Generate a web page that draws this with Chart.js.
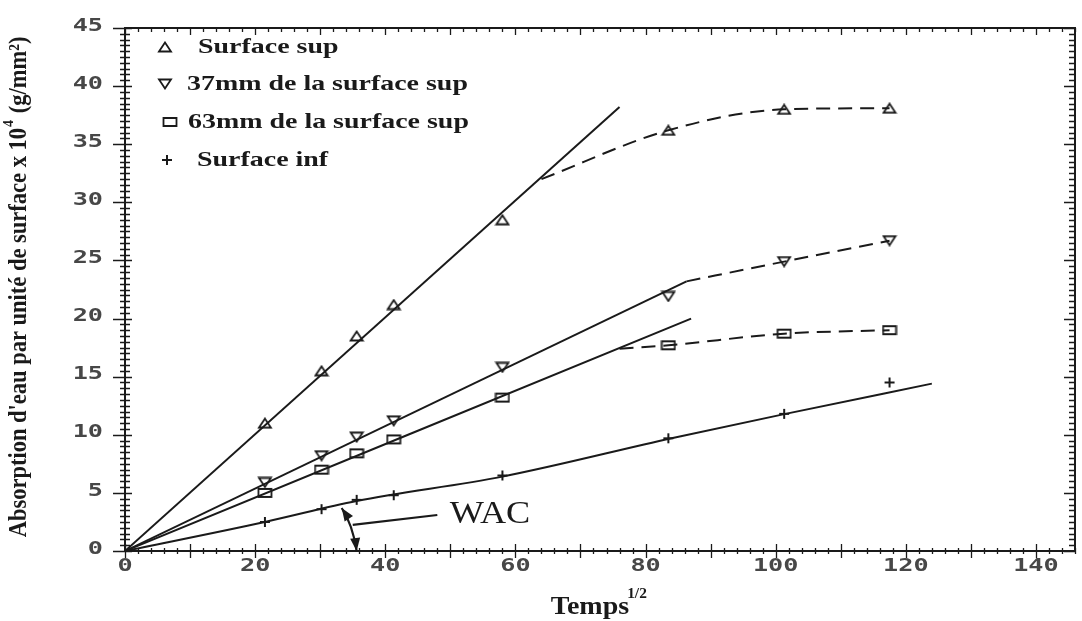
<!DOCTYPE html>
<html lang="fr">
<head>
<meta charset="utf-8">
<title>Absorption d'eau</title>
<script src="https://cdn.jsdelivr.net/npm/chart.js@4.4.1/dist/chart.umd.min.js"></script>
<style>
    html, body { margin: 0; padding: 0; background: #fff; }
    #wrap { position: relative; width: 1082px; height: 621px; }
</style>
</head>
<body>
<div id="wrap"><canvas id="absorptionChart"></canvas></div>
<script>
// temps^1/2 des mesures
const temps = [21.5, 30.2, 35.6, 41.3, 58.0, 83.5, 101.3, 117.5];

// absorption x 10^4 (g/mm²)
const surfSup = [11.0, 15.5, 18.5, 21.2, 28.5, 36.2, 38.0, 38.1];
const mm37 = [5.9, 8.2, 9.8, 11.2, 15.8, 21.9, 24.9, 26.7];
const mm63 = [5.0, 7.0, 8.4, 9.6, 13.2, 17.7, 18.7, 19.0];
const surfInf = [2.5, 3.6, 4.4, 4.8, 6.5, 9.7, 11.8, 14.5];

// droites de regression (trait plein)
const supDroiteX = [0, 76];
const supDroiteY = [0, 38.2];
const mm37DroiteX = [0, 86.3];
const mm37DroiteY = [0, 23.2];
const mm63DroiteX = [0, 87];
const mm63DroiteY = [0, 20.0];
const infDroiteX = [0, 21.5, 35.6, 58.0, 84.0, 101.5, 124];
const infDroiteY = [0, 2.5, 4.3, 6.4, 9.7, 11.8, 14.4];

// saturation (tirets)
const supCourbeX = [64, 83.5, 101.3, 117.5];
const supCourbeY = [32.0, 36.2, 38.0, 38.1];
const mm37CourbeX = [86.3, 101.3, 117.5];
const mm37CourbeY = [23.2, 24.9, 26.7];
const mm63CourbeX = [76, 83.5, 101.3, 117.5];
const mm63CourbeY = [17.4, 17.7, 18.7, 19.0];

const legendes = ['Surface sup', '37mm de la surface sup', '63mm de la surface sup', 'Surface inf'];

const xTicks = [0, 20, 40, 60, 80, 100, 120, 140];
const yTicks = [0, 5, 10, 15, 20, 25, 30, 35, 40, 45];

// repere WAC (en unites des axes)
const wacFleche = [[33.3, 3.7], [35.0, 2.25], [35.6, 0]];
const wacTrait = [[35.0, 2.25], [48.0, 3.1]];
const wacTexte = [49.9, 3.1];

const ENCRE = '#1a1a1a';

function zip(xs, ys) {
    return xs.map((v, i) => ({ x: v, y: ys[i] }));
}

// petits symboles dessines a la main, un peu plus larges que hauts
function symbole(kind) {
    const c = document.createElement('canvas');
    c.width = 16;
    c.height = 12;
    const g = c.getContext('2d');
    g.strokeStyle = ENCRE;
    g.lineWidth = 1.8;
    g.beginPath();
    if (kind === 'tri') {
        g.moveTo(2, 10.5); g.lineTo(8, 1.5); g.lineTo(14, 10.5); g.closePath();
    } else if (kind === 'triInv') {
        g.moveTo(2, 1.5); g.lineTo(14, 1.5); g.lineTo(8, 10.5); g.closePath();
    } else if (kind === 'rect') {
        g.rect(1.5, 2, 13, 8);
    } else {
        g.lineWidth = 2;
        g.moveTo(8, 1); g.lineTo(8, 11);
        g.moveTo(3, 6); g.lineTo(13, 6);
    }
    g.stroke();
    return c;
}

const symboles = [symbole('tri'), symbole('triInv'), symbole('rect'), symbole('plus')];

function texteEtire(ctx, txt, x, y, font, sx, align, color) {
    ctx.save();
    ctx.font = font;
    ctx.fillStyle = color || ENCRE;
    ctx.textBaseline = 'middle';
    ctx.textAlign = 'left';
    const w = ctx.measureText(txt).width * sx;
    let x0 = x;
    if (align === 'center') x0 = x - w / 2;
    if (align === 'right') x0 = x - w;
    ctx.translate(x0, y);
    ctx.scale(sx, 1);
    ctx.fillText(txt, 0, 0);
    ctx.restore();
    return w;
}

function points(vals, i) {
    return {
        label: legendes[i],
        data: zip(temps, vals),
        showLine: false,
        pointStyle: symboles[i],
        pointRadius: 6,
        pointHoverRadius: 6
    };
}

function trait(xs, ys, dashed) {
    return {
        data: zip(xs, ys),
        showLine: true,
        borderColor: ENCRE,
        borderWidth: 2,
        borderDash: dashed ? [14, 8] : [],
        cubicInterpolationMode: 'monotone',
        pointRadius: 0,
        pointHoverRadius: 0
    };
}

// cadre, graduations et libelles des axes
const cadrePlugin = {
    id: 'cadre',
    afterDatasetsDraw(chart) {
        const { ctx, chartArea: a, scales: { x, y } } = chart;
        ctx.save();
        ctx.strokeStyle = ENCRE;
        ctx.lineWidth = 2;
        ctx.strokeRect(a.left, a.top, a.right - a.left, a.bottom - a.top);

        ctx.lineWidth = 1.3;
        ctx.beginPath();
        for (let v = 0; v <= 45; v += 0.5) {
            const py = Math.round(y.getPixelForValue(v)) + 0.5;
            const major = v % 5 === 0;
            ctx.moveTo(a.left - (major ? 12 : 5), py);
            ctx.lineTo(a.left + (major ? 7 : 5), py);
            ctx.moveTo(a.right - (major ? 11 : 6), py);
            ctx.lineTo(a.right, py);
        }
        for (let v = 0; v <= x.max; v += 2) {
            const px = Math.round(x.getPixelForValue(v)) + 0.5;
            const major = v % 10 === 0;
            ctx.moveTo(px, a.bottom - (major ? 7 : 3));
            ctx.lineTo(px, a.bottom + (major ? 7 : 3));
            ctx.moveTo(px, a.top);
            ctx.lineTo(px, a.top + (major ? 7 : 4));
        }
        ctx.stroke();

        const fontTick = 'bold 18px "DejaVu Sans Mono"';
        yTicks.forEach(v => {
            texteEtire(ctx, String(v), a.left - 22, y.getPixelForValue(v) - 2, fontTick, 1.4, 'right', '#474747');
        });
        xTicks.forEach(v => {
            texteEtire(ctx, String(v), x.getPixelForValue(v), a.bottom + 15, fontTick, 1.4, 'center', '#474747');
        });

        // titre de l'axe des x : Temps^1/2
        const wT = texteEtire(ctx, 'Temps', 590, 608, 'bold 25px "Liberation Serif"', 1.12, 'center');
        texteEtire(ctx, '1/2', 590 + wT / 2 - 2, 594, 'bold 14px "Liberation Serif"', 1.1, 'left');

        // titre de l'axe des y, ecrit verticalement
        ctx.translate(20, 287);
        ctx.rotate(-Math.PI / 2);
        ctx.scale(1, 1.1);
        ctx.fillStyle = ENCRE;
        ctx.textBaseline = 'middle';
        ctx.textAlign = 'left';
        const fBase = 'bold 22.5px "Liberation Serif"';
        const fSup = 'bold 14px "Liberation Serif"';
        const p1 = "Absorption d'eau par unité de surface x 10";
        const p3 = ' (g/mm²)';
        ctx.font = fBase;
        const w1 = ctx.measureText(p1).width;
        const w3 = ctx.measureText(p3).width;
        ctx.font = fSup;
        const w2 = ctx.measureText('4').width + 2;
        let cx = -(w1 + w2 + w3) / 2;
        ctx.font = fBase;
        ctx.fillText(p1, cx, 0);
        cx += w1;
        ctx.font = fSup;
        ctx.fillText('4', cx + 1, -10);
        cx += w2;
        ctx.font = fBase;
        ctx.fillText(p3, cx, 0);
        ctx.restore();
    }
};

// legende placee dans le coin superieur gauche
const legendePlugin = {
    id: 'legendeInterne',
    afterDatasetsDraw(chart) {
        const { ctx } = chart;
        const lignes = [
            { sx: 165, tx: 198, y: 47 },
            { sx: 165, tx: 187, y: 84 },
            { sx: 170, tx: 188, y: 122 },
            { sx: 167, tx: 197, y: 160 }
        ];
        lignes.forEach((l, i) => {
            const img = chart.data.datasets[i].pointStyle;
            ctx.drawImage(img, l.sx - img.width / 2, l.y - img.height / 2);
            texteEtire(ctx, chart.data.datasets[i].label, l.tx, l.y, 'bold 22px "Liberation Serif"', 1.27, 'left');
        });
    }
};

function pointe(ctx, x0, y0, x1, y1) {
    // pointe de fleche pleine en (x1, y1)
    const ang = Math.atan2(y1 - y0, x1 - x0);
    const L = 13, W = 5;
    ctx.beginPath();
    ctx.moveTo(x1, y1);
    ctx.lineTo(x1 - L * Math.cos(ang) + W * Math.sin(ang), y1 - L * Math.sin(ang) - W * Math.cos(ang));
    ctx.lineTo(x1 - L * Math.cos(ang) - W * Math.sin(ang), y1 - L * Math.sin(ang) + W * Math.cos(ang));
    ctx.closePath();
    ctx.fill();
}

const wacPlugin = {
    id: 'wac',
    afterDatasetsDraw(chart) {
        const { ctx, scales: { x, y } } = chart;
        const px = p => [x.getPixelForValue(p[0]), y.getPixelForValue(p[1])];
        const [a, b, c] = wacFleche.map(px);
        ctx.save();
        ctx.strokeStyle = ENCRE;
        ctx.fillStyle = ENCRE;
        ctx.lineWidth = 2.2;
        ctx.beginPath();
        ctx.moveTo(a[0], a[1]);
        ctx.quadraticCurveTo(b[0], b[1], c[0], c[1]);
        ctx.stroke();
        pointe(ctx, b[0], b[1], a[0], a[1]);
        pointe(ctx, b[0], b[1] - 8, c[0], c[1]);

        const [t0, t1] = wacTrait.map(px);
        ctx.beginPath();
        ctx.moveTo(t0[0], t0[1]);
        ctx.lineTo(t1[0], t1[1]);
        ctx.stroke();

        const t = px(wacTexte);
        texteEtire(ctx, 'WAC', t[0], t[1], '31px "Liberation Serif"', 1.17, 'left');
        ctx.restore();
    }
};

const ctx = document.getElementById('absorptionChart').getContext('2d');

new Chart(ctx, {
    type: 'scatter',
    data: {
        datasets: [
            points(surfSup, 0),
            points(mm37, 1),
            points(mm63, 2),
            points(surfInf, 3),
            trait(supDroiteX, supDroiteY, false),
            trait(supCourbeX, supCourbeY, true),
            trait(mm37DroiteX, mm37DroiteY, false),
            trait(mm37CourbeX, mm37CourbeY, true),
            trait(mm63DroiteX, mm63DroiteY, false),
            trait(mm63CourbeX, mm63CourbeY, true),
            trait(infDroiteX, infDroiteY, false)
        ]
    },
    options: {
        responsive: true,
        maintainAspectRatio: false,
        animation: false,
        layout: {
            padding: { left: 125, top: 28, right: 6, bottom: 70 }
        },
        plugins: {
            legend: { display: false },
            tooltip: { enabled: false }
        },
        scales: {
            x: { type: 'linear', display: false, min: 0, max: 146 },
            y: { type: 'linear', display: false, min: 0, max: 45 }
        }
    },
    plugins: [cadrePlugin, legendePlugin, wacPlugin]
});
</script>
</body>
</html>
